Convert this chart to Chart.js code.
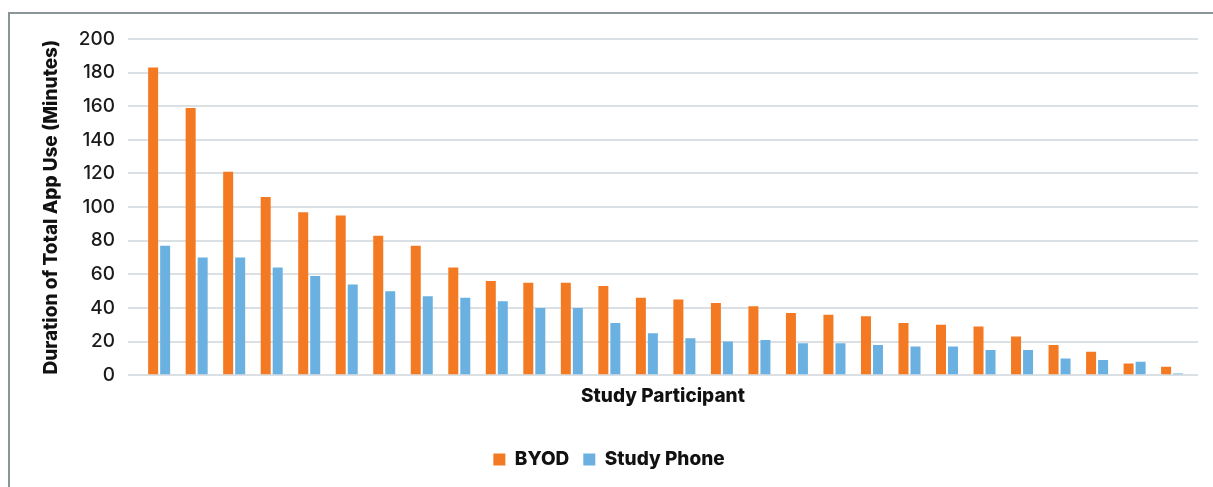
<!DOCTYPE html>
<html>
<head>
<meta charset="utf-8">
<script src="https://cdn.jsdelivr.net/npm/chart.js@4"></script>
<style>
  html, body { margin: 0; padding: 0; background: #fff; overflow: hidden; }
  #wrap { position: relative; width: 1213px; height: 487px; overflow: hidden; }
  #frame { position: absolute; left: 8px; top: 12px; width: 1300px; height: 600px;
           border-left: 2px solid #8b9598; border-top: 2px solid #8b9598; }
  #chart { position: absolute; left: 0; top: 0; }
</style>
</head>
<body>
<div id="wrap">
  <div id="frame"></div>
  <canvas id="chart" width="1213" height="487"></canvas>
</div>
<script>
// one entry per study participant, sorted by BYOD usage
const participants = ['1','2','3','4','5','6','7','8','9','10','11','12','13','14',
  '15','16','17','18','19','20','21','22','23','24','25','26','27','28'];
const byod = [183,159,121,106,97,95,83,77,64,56,55,55,53,46,45,43,41,37,36,35,31,30,29,23,18,14,7,5];
const studyPhone = [77,70,70,64,59,54,50,47,46,44,40,40,31,25,22,20,21,19,19,18,17,17,15,15,10,9,8,1];
const yTicks = [0,20,40,60,80,100,120,140,160,180,200];

const FONT = "Inter, 'Open Sans', sans-serif";

const toPoints = arr => arr.map((v, i) => ({ x: i, y: v }));

new Chart(document.getElementById('chart'), {
  type: 'bar',
  data: {
    datasets: [
      { label: 'BYOD', data: toPoints(byod), backgroundColor: '#f37a22',
        categoryPercentage: 0.64, barPercentage: 0.833 },
      { label: 'Study Phone', data: toPoints(studyPhone), backgroundColor: '#6ab1e2',
        categoryPercentage: 0.64, barPercentage: 0.833 }
    ]
  },
  options: {
    responsive: false,
    devicePixelRatio: 1,
    animation: false,
    layout: { padding: { left: 20, right: 15, top: 39, bottom: 8 } },
    scales: {
      x: {
        type: 'linear',
        offset: false,
        min: -0.83,
        max: 27.69,
        grid: { display: false, offset: false },
        border: { display: false },
        ticks: { display: false },
        title: {
          display: true,
          text: 'Study Participant',
          color: '#111',
          font: { family: FONT, size: 19, weight: '800' },
          padding: { top: 2, bottom: 28 }
        }
      },
      y: {
        min: 0,
        max: 200,
        afterBuildTicks: s => { s.ticks = yTicks.map(v => ({ value: v })); },
        afterFit: s => { s.width = 108; },
        grid: { color: '#dbe0e5', lineWidth: 2, drawTicks: false },
        border: { display: false },
        ticks: {
          padding: 13,
          color: '#1a1a1a',
          font: { family: FONT, size: 19, weight: '500' }
        },
        title: {
          display: true,
          text: 'Duration of Total App Use (Minutes)',
          color: '#111',
          font: { family: FONT, size: 19, weight: '800' },
          padding: { top: 20, bottom: 0 }
        }
      }
    },
    plugins: {
      legend: {
        position: 'bottom',
        labels: {
          boxWidth: 12,
          boxHeight: 12,
          padding: 14,
          color: '#111',
          font: { family: FONT, size: 19, weight: '800' }
        }
      },
      tooltip: { enabled: false }
    }
  }
});
</script>
</body>
</html>
